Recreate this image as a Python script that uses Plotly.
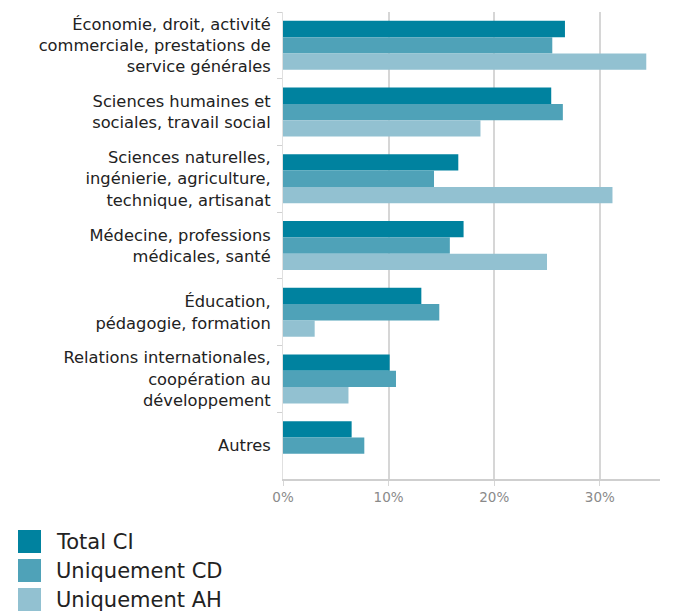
import plotly.graph_objects as go

# Fields of study (top to bottom)
categories = [
    "Économie, droit, activité<br>commerciale, prestations de<br>service générales",
    "Sciences humaines et<br>sociales, travail social",
    "Sciences naturelles,<br>ingénierie, agriculture,<br>technique, artisanat",
    "Médecine, professions<br>médicales, santé",
    "Éducation,<br>pédagogie, formation",
    "Relations internationales,<br>coopération au<br>développement",
    "Autres",
]

series_names = ["Total CI", "Uniquement CD", "Uniquement AH"]
total_ci = [26.7, 25.4, 16.6, 17.1, 13.1, 10.1, 6.5]
uniquement_cd = [25.5, 26.5, 14.3, 15.8, 14.8, 10.7, 7.7]
uniquement_ah = [34.4, 18.7, 31.2, 25.0, 3.0, 6.2, None]

series_values = [total_ci, uniquement_cd, uniquement_ah]
colors = ["#00829f", "#4fa2b8", "#92c1d1"]

x_ticks = [0, 10, 20, 30]
x_tick_labels = ["0%", "10%", "20%", "30%"]

FONT = "DejaVu Sans"

fig = go.Figure()
for name, vals, col in zip(series_names, series_values, colors):
    fig.add_trace(go.Bar(
        y=categories, x=vals, name=name, orientation="h",
        marker=dict(color=col, line=dict(width=0)),
        showlegend=False,
    ))

# Plot area in pixels, used to place the legend below it
PL, PR, PT, PB = 283, 660, 12, 479


def px_x(x):
    return (x - PL) / (PR - PL)


def px_y(y):
    return (PB - y) / (PB - PT)


# Legend drawn as squares with labels below the plot
for i, (name, col) in enumerate(zip(series_names, colors)):
    top = 530 + i * 29
    fig.add_shape(type="rect", xref="paper", yref="paper",
                  x0=px_x(18), x1=px_x(41), y0=px_y(top + 23), y1=px_y(top),
                  fillcolor=col, line=dict(width=0))
    fig.add_annotation(xref="paper", yref="paper",
                       x=px_x(54), y=px_y(top + 12),
                       xanchor="left", yanchor="middle", showarrow=False,
                       text=name, font=dict(size=21, color="#222222", family=FONT))

fig.update_layout(
    width=684, height=615,
    margin=dict(l=PL, r=684 - PR, t=PT, b=615 - PB),
    paper_bgcolor="white", plot_bgcolor="white",
    barmode="group", bargap=0.265, bargroupgap=0,
    font=dict(family=FONT, color="#222222"),
    xaxis=dict(
        range=[0, 35.7], tickvals=x_ticks, ticktext=x_tick_labels,
        showgrid=True, gridcolor="#d6d6d6", gridwidth=1.5,
        zeroline=False, showline=True, linecolor="#cfcfcf", linewidth=2,
        ticks="outside", ticklen=5, tickcolor="#d6d6d6",
        tickfont=dict(size=13.5, color="#8a8a8a", family=FONT),
    ),
    yaxis=dict(
        autorange="reversed", type="category",
        showline=True, linecolor="#e0e0e0", linewidth=1,
        ticks="outside", tickson="boundaries", ticklen=5, tickcolor="#d0d0d0",
        showgrid=False, ticklabelstandoff=8,
        tickfont=dict(size=16.3, color="#222222", family=FONT),
    ),
)

fig.write_html("out.html")
